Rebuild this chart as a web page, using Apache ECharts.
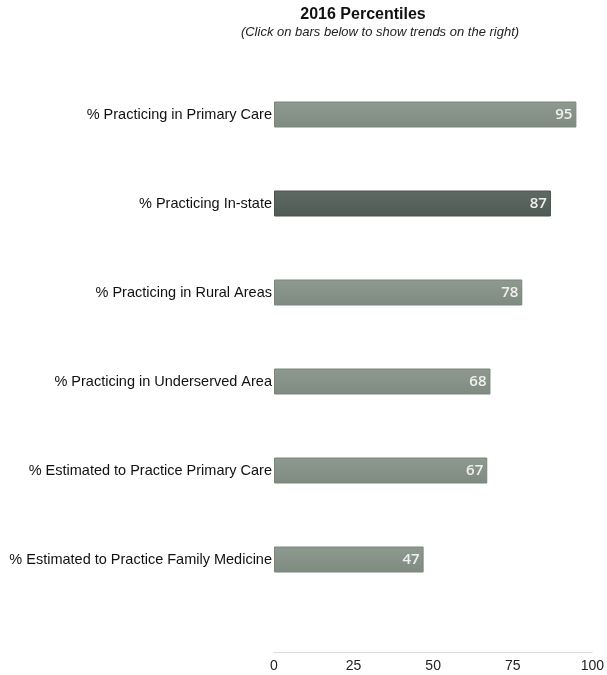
<!DOCTYPE html>
<html style="height: 100%">
    <head>
        <meta charset="utf-8">
    </head>
    <body style="height: 100%; margin: 0; background: #fff">
        <div id="container" style="height: 100%"></div>
        <script type="text/javascript" src="https://cdn.jsdelivr.net/npm/echarts@6/dist/echarts.min.js"></script>
        <script type="text/javascript">
    var categories = [
        "% Practicing in Primary Care",
        "% Practicing In-state",
        "% Practicing in Rural Areas",
        "% Practicing in Underserved Area",
        "% Estimated to Practice Primary Care",
        "% Estimated to Practice Family Medicine"
    ];
    var values = [95, 87, 78, 68, 67, 47];
    var selectedIndex = 1;
    var xTicks = [0, 25, 50, 75, 100];

    var dom = document.getElementById("container");
    var myChart = echarts.init(dom);

    var lightBar = new echarts.graphic.LinearGradient(0, 0, 0, 1, [
        { offset: 0, color: '#8e9a90' },
        { offset: 1, color: '#7f8a81' }
    ]);
    var darkBar = new echarts.graphic.LinearGradient(0, 0, 0, 1, [
        { offset: 0, color: '#5e6a63' },
        { offset: 1, color: '#4f5a54' }
    ]);

    var barData = [];
    for (var i = 0; i < values.length; i++) {
        barData.push({
            value: values[i],
            itemStyle: {
                color: i === selectedIndex ? darkBar : lightBar,
                borderColor: i === selectedIndex ? '#4a544e' : '#7a857c',
                borderWidth: 1
            }
        });
    }

    var option = {
        animation: false,
        title: [{
            text: "2016 Percentiles",
            left: 358,
            top: 2,
            textAlign: 'center',
            textStyle: {
                fontFamily: 'Liberation Sans',
                fontSize: 16,
                fontWeight: 'bold',
                color: '#111'
            }
        }, {
            text: "(Click on bars below to show trends on the right)",
            left: 375,
            top: 21,
            textAlign: 'center',
            textStyle: {
                fontFamily: 'Liberation Sans',
                fontSize: 13,
                fontStyle: 'italic',
                fontWeight: 'normal',
                color: '#222'
            }
        }],
        grid: {
            left: 274,
            right: 11,
            top: 70,
            bottom: 71
        },
        xAxis: {
            type: 'value',
            min: 0,
            max: 100,
            interval: 25,
            offset: 48,
            axisLine: { show: true, lineStyle: { color: '#d8dde2', width: 1 } },
            axisTick: { show: false },
            splitLine: { show: false },
            axisLabel: {
                margin: 7,
                fontFamily: 'Liberation Sans',
                fontSize: 14,
                color: '#222',
                formatter: function (v) { return xTicks.indexOf(v) >= 0 ? String(v) : ''; }
            }
        },
        yAxis: {
            type: 'category',
            inverse: true,
            data: categories,
            axisLine: { show: false },
            axisTick: { show: false },
            axisLabel: {
                margin: 2,
                fontFamily: 'Liberation Sans',
                fontSize: 14.5,
                color: '#111'
            }
        },
        series: [{
            type: 'bar',
            data: barData,
            barWidth: 26,
            label: {
                show: true,
                position: 'insideRight',
                distance: 4,
                fontFamily: 'Open Sans',
                fontWeight: 600,
                fontSize: 15,
                color: '#f0f0f0'
            }
        }]
    };

    myChart.setOption(option);
        </script>
    </body>
</html>
